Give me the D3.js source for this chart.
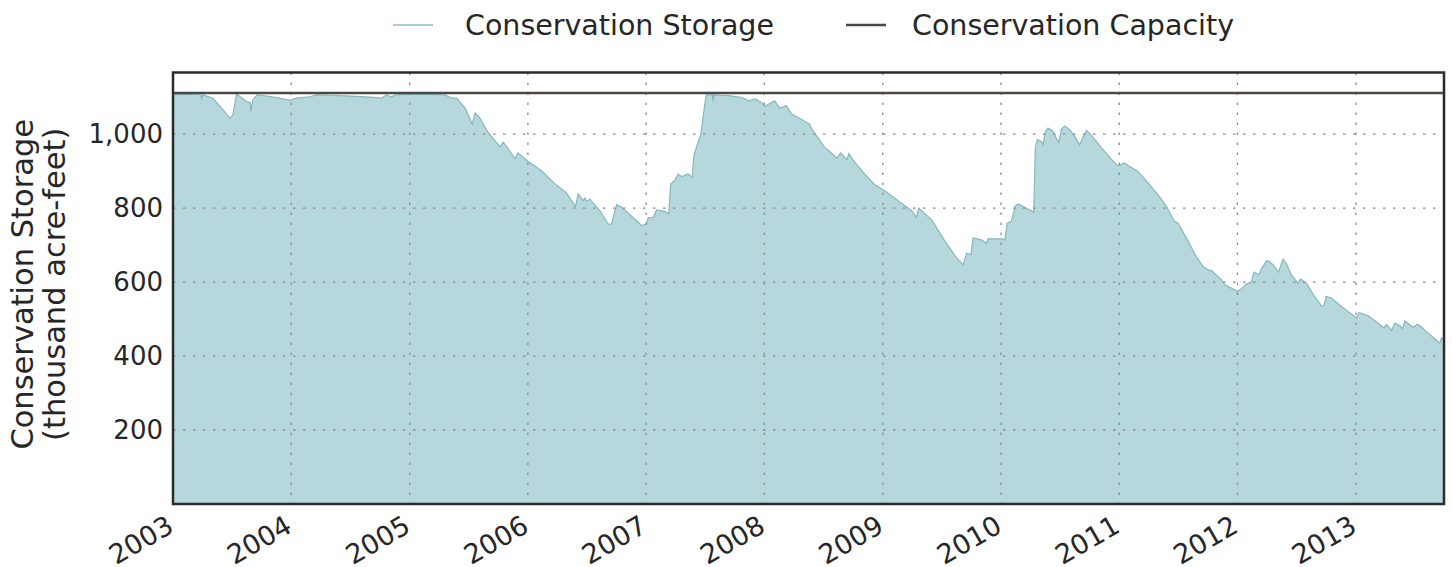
<!DOCTYPE html>
<html>
<head>
<meta charset="utf-8">
<script src="https://cdn.jsdelivr.net/npm/d3@7"></script>
<style>
  body { margin: 0; background: #ffffff; }
  text { font-family: "DejaVu Sans", sans-serif; fill: #262626; }
</style>
</head>
<body>
<div id="chart"></div>
<script>
// Chart size
const width = 1452;
const height = 567;
const margin = {top: 72.5, right: 8, bottom: 63, left: 173};

// Data (thousand acre-feet)
const storageDates = [
  "2003-01-01","2003-02-22","2003-03-27","2003-03-30","2003-04-03","2003-05-04","2003-06-04","2003-06-26",
  "2003-07-05","2003-07-16","2003-08-16","2003-08-28","2003-08-29","2003-09-05","2003-09-18","2003-10-17",
  "2003-11-27","2003-12-28","2004-01-17","2004-02-27","2004-03-19","2004-05-30","2004-08-31","2004-10-06",
  "2004-10-21","2004-11-06","2004-11-16","2005-02-02","2005-04-20","2005-05-11","2005-05-26","2005-06-21",
  "2005-07-13","2005-07-22","2005-08-06","2005-09-01","2005-10-07","2005-10-17","2005-11-07","2005-11-22",
  "2005-12-01","2006-01-02","2006-02-12","2006-03-25","2006-04-30","2006-05-28","2006-06-05","2006-06-21",
  "2006-06-26","2006-07-01","2006-07-11","2006-08-11","2006-08-16","2006-09-06","2006-09-16","2006-10-02",
  "2006-10-17","2006-11-07","2006-12-18","2007-01-02","2007-01-07","2007-01-23","2007-02-02","2007-02-28",
  "2007-03-12","2007-03-18","2007-03-31","2007-04-10","2007-04-22","2007-05-11","2007-05-23","2007-05-29",
  "2007-06-13","2007-06-19","2007-07-01","2007-07-06","2007-07-25","2007-07-27","2007-07-29","2007-09-13",
  "2007-10-24","2007-11-14","2007-12-04","2007-12-25","2008-01-02","2008-02-02","2008-02-17","2008-03-09",
  "2008-03-25","2008-04-19","2008-05-05","2008-05-20","2008-05-25","2008-07-05","2008-07-21","2008-08-12",
  "2008-08-24","2008-09-12","2008-09-18","2008-10-06","2008-11-06","2008-12-07","2009-01-07","2009-02-17",
  "2009-03-31","2009-04-15","2009-04-22","2009-06-01","2009-07-12","2009-08-17","2009-09-06","2009-09-17",
  "2009-09-30","2009-10-07","2009-11-02","2009-11-17","2009-11-22","2010-01-03","2010-01-13","2010-01-20",
  "2010-02-02","2010-02-15","2010-02-23","2010-03-31","2010-04-12","2010-04-17","2010-04-23","2010-05-06",
  "2010-05-11","2010-05-18","2010-05-26","2010-06-11","2010-06-21","2010-06-28","2010-07-07","2010-07-17",
  "2010-08-02","2010-08-17","2010-09-01","2010-09-12","2010-09-22","2010-10-08","2010-11-08","2010-12-09",
  "2010-12-28","2011-01-18","2011-02-02","2011-02-28","2011-03-31","2011-05-01","2011-05-27","2011-06-19",
  "2011-07-02","2011-08-02","2011-08-27","2011-09-17","2011-10-02","2011-10-13","2011-11-13","2011-11-23",
  "2011-12-08","2011-12-14","2012-01-01","2012-01-13","2012-01-29","2012-02-13","2012-02-21","2012-03-07",
  "2012-03-15","2012-03-30","2012-04-04","2012-04-20","2012-05-07","2012-05-21","2012-05-31","2012-06-15",
  "2012-07-06","2012-07-14","2012-08-01","2012-08-26","2012-09-16","2012-09-24","2012-10-01","2012-10-17",
  "2012-11-17","2012-12-18","2013-01-03","2013-01-10","2013-02-08","2013-03-16","2013-03-29","2013-04-05",
  "2013-04-21","2013-05-01","2013-05-17","2013-05-25","2013-06-01","2013-06-27","2013-07-10","2013-07-23",
  "2013-08-12","2013-09-02","2013-09-17","2013-09-22","2013-09-30"
];
const storageValues = [
  1106,1108,1108,1096,1106,1097,1066,1043,
  1052,1108,1088,1085,1061,1093,1106,1103,
  1097,1091,1097,1101,1106,1104,1100,1097,
  1106,1100,1106,1108,1106,1097,1097,1070,
  1027,1057,1043,1003,966,978,953,933,
  949,926,901,866,841,804,838,820,
  827,818,824,793,786,757,757,809,
  802,786,753,757,773,775,795,791,
  784,865,876,892,885,892,883,944,
  985,998,1079,1106,1106,1088,1106,1104,
  1099,1090,1095,1084,1075,1090,1070,1077,
  1054,1043,1034,1027,1016,964,953,935,
  949,931,947,924,892,863,847,820,
  793,775,800,768,710,665,647,678,
  674,719,714,705,717,717,714,759,
  764,807,811,795,789,962,985,980,
  971,1007,1016,1007,989,977,1014,1022,
  1011,993,971,993,1010,996,962,931,
  914,922,912,899,868,836,804,766,
  759,710,669,642,633,631,606,593,
  585,584,575,581,595,599,627,620,
  635,656,658,647,627,662,651,620,
  597,608,597,561,536,536,561,557,
  534,514,503,518,509,485,476,485,
  469,489,482,473,495,478,486,478,
  462,446,435,449,444
];
const capacity = 1111;
const dateRange = ["2003-01-01", "2013-09-30"];
const yMax = 1166.5;
const yTicks = [200, 400, 600, 800, 1000];
const legendLabels = ["Conservation Storage", "Conservation Capacity"];

const parseDate = d3.timeParse("%Y-%m-%d");
const storage = storageDates.map((d, i) => ({date: parseDate(d), value: storageValues[i]}));

const svg = d3.select("#chart")
    .append("svg")
    .attr("width", width)
    .attr("height", height);

const x = d3.scaleTime()
    .domain(dateRange.map(parseDate))
    .range([margin.left, width - margin.right]);

const y = d3.scaleLinear()
    .domain([0, yMax])
    .range([height - margin.bottom, margin.top]);

// Storage area
const area = d3.area()
    .x(d => x(d.date))
    .y0(y(0))
    .y1(d => y(d.value));

const line = d3.line()
    .x(d => x(d.date))
    .y(d => y(d.value));

svg.append("path")
    .datum(storage)
    .attr("d", area)
    .attr("fill", "#b6d8dd");

svg.append("path")
    .datum(storage)
    .attr("d", line)
    .attr("fill", "none")
    .attr("stroke", "#85b7be")
    .attr("stroke-width", 1.2);

// Grid lines (dotted), drawn above the fill
svg.append("g")
    .selectAll("line")
    .data(yTicks)
    .enter()
    .append("line")
    .attr("x1", margin.left)
    .attr("x2", width - margin.right)
    .attr("y1", d => y(d))
    .attr("y2", d => y(d))
    .attr("stroke", "#8a8a8a")
    .attr("stroke-width", 1.3)
    .attr("stroke-dasharray", "2.5,7.5");

const xTicks = x.ticks(d3.timeYear.every(1));

svg.append("g")
    .selectAll("line")
    .data(xTicks)
    .enter()
    .append("line")
    .attr("x1", d => x(d))
    .attr("x2", d => x(d))
    .attr("y1", margin.top)
    .attr("y2", height - margin.bottom)
    .attr("stroke", "#8a8a8a")
    .attr("stroke-width", 1.3)
    .attr("stroke-dasharray", "2.5,7.5");

// Capacity line
svg.append("line")
    .attr("x1", margin.left)
    .attr("x2", width - margin.right)
    .attr("y1", y(capacity))
    .attr("y2", y(capacity))
    .attr("stroke", "#4b4843")
    .attr("stroke-width", 2.5);

// Frame
svg.append("rect")
    .attr("x", margin.left)
    .attr("y", margin.top)
    .attr("width", width - margin.right - margin.left)
    .attr("height", height - margin.bottom - margin.top)
    .attr("fill", "none")
    .attr("stroke", "#2b2b2b")
    .attr("stroke-width", 2.5);

// Y axis
const yAxis = d3.axisLeft(y)
    .tickValues(yTicks)
    .tickFormat(d3.format(","))
    .tickSize(0)
    .tickPadding(10);

svg.append("g")
    .attr("transform", `translate(${margin.left},0)`)
    .call(yAxis)
    .call(g => g.select(".domain").remove())
    .selectAll("text")
    .attr("font-size", 26)
    .attr("font-family", "DejaVu Sans")
    .attr("fill", "#262626");

// X axis, rotated labels
const xAxis = d3.axisBottom(x)
    .tickValues(xTicks)
    .tickFormat(d3.timeFormat("%Y"))
    .tickSize(0)
    .tickPadding(0);

svg.append("g")
    .attr("transform", `translate(0,${height - margin.bottom})`)
    .call(xAxis)
    .call(g => g.select(".domain").remove())
    .selectAll("text")
    .attr("font-size", 27)
    .attr("font-family", "DejaVu Sans")
    .attr("fill", "#262626")
    .attr("text-anchor", "end")
    .attr("dy", null)
    .attr("y", 0)
    .attr("transform", "translate(2,27) rotate(-30)");

// Y label
const yLabel = svg.append("text")
    .attr("transform", `translate(0,${(margin.top + height - margin.bottom) / 2 - 4}) rotate(-90)`)
    .attr("text-anchor", "middle")
    .attr("font-size", 30.5);

yLabel.append("tspan").attr("x", 0).attr("y", 33).text("Conservation Storage");
yLabel.append("tspan").attr("x", 0).attr("y", 65).text("(thousand acre-feet)");

// Legend
const legend = svg.append("g");

legend.append("line")
    .attr("x1", 393).attr("x2", 433)
    .attr("y1", 25).attr("y2", 25)
    .attr("stroke", "#85bfc9")
    .attr("stroke-width", 1.5);

legend.append("text")
    .attr("x", 465).attr("y", 35)
    .attr("font-size", 28.5)
    .text(legendLabels[0]);

legend.append("line")
    .attr("x1", 846).attr("x2", 886)
    .attr("y1", 25).attr("y2", 25)
    .attr("stroke", "#4b4843")
    .attr("stroke-width", 2.5);

legend.append("text")
    .attr("x", 912).attr("y", 35)
    .attr("font-size", 28.5)
    .text(legendLabels[1]);
</script>
</body>
</html>
